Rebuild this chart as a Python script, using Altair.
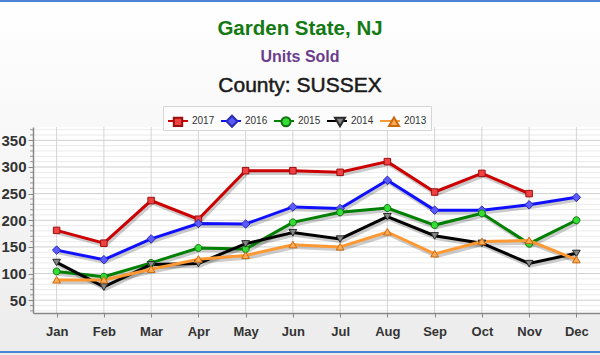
import altair as alt
import pandas as pd

# ---------------- data ----------------
months = ["Jan", "Feb", "Mar", "Apr", "May", "Jun", "Jul", "Aug", "Sep", "Oct", "Nov", "Dec"]
years = ["2017", "2016", "2015", "2014", "2013"]

s2017 = [181, 157, 237, 202, 293, 293, 290, 310, 253, 288, 250, None]
s2016 = [144, 126, 165, 194, 193, 225, 222, 275, 219, 219, 229, 243]
s2015 = [104, 94, 120, 148, 146, 196, 215, 223, 191, 213, 156, 200]
s2014 = [121, 75, 117, 119, 156, 177, 165, 207, 171, 157, 119, 138]
s2013 = [88, 88, 108, 127, 134, 154, 150, 178, 137, 160, 162, 126]

title_main = "Garden State, NJ"
title_sub = "Units Sold"
title_county = "County: SUSSEX"

y_major = [50, 100, 150, 200, 250, 300, 350]
y_minor = [v for v in range(30, 371, 10) if v % 50 != 0]

# ---------------- styles ----------------
line_colors = ["#cc0000", "#1010ff", "#008000", "#000000", "#ff9933"]
fill_colors = ["#f04040", "#5a5aff", "#33dd33", "#858585", "#ffaa55"]
edge_colors = ["#9a1010", "#2a2ab0", "#137013", "#2a2a2a", "#c86a10"]
# marker outlines drawn at half scale; "M-1.1,0M1.1,0" only widens the bounds so the
# marker legend lays out exactly like the line legend beneath it
EXT = "M-1.1,0M1.1,0"
shape_paths = [
    EXT + "M-0.42,-0.42H0.42V0.42H-0.42Z",
    EXT + "M0,-0.55L0.55,0L0,0.55L-0.55,0Z",
    EXT + "M-0.45,0A0.45,0.45,0,1,0,0.45,0A0.45,0.45,0,1,0,-0.45,0Z",
    EXT + "M-0.5,-0.4L0.5,-0.4L0,0.45Z",
    EXT + "M-0.5,0.4L0.5,0.4L0,-0.45Z",
]

W, H = 567, 186
PAD_L, PAD_T, PAD_B = 33, 127, 42
FONT = "Liberation Sans"
LEG_FS = 10
LABEL_W = 4 * 0.556 * LEG_FS  # width of a four-digit year label in this font

rows = []
for yr, vals in zip(years, [s2017, s2016, s2015, s2014, s2013]):
    for m, v in zip(months, vals):
        if v is not None:
            rows.append({"month": m, "year": yr, "value": v})
df = pd.DataFrame(rows)

grid_minor_df = pd.DataFrame({"value": y_minor})
grid_major_df = pd.DataFrame({"value": y_major})
grid_month_df = pd.DataFrame({"month": months})
one = alt.Data(values=[{"k": 1}])

x_scale = alt.Scale(type="point", domain=months, padding=0.5)
y_scale = alt.Scale(domain=[26, 375], nice=False, zero=False)

x_axis = alt.Axis(title=None, labelFont=FONT, labelFontSize=13, labelFontWeight="bold",
                  labelColor="#333333", tickSize=4, tickColor="#888888", domainColor="#888888",
                  domainWidth=1.5, labelPadding=8, grid=False, labelAngle=0, zindex=1)
y_axis = alt.Axis(title=None, values=y_major, labelFont=FONT, labelFontSize=15,
                  labelFontWeight="bold", labelColor="#333333", tickSize=5, tickColor="#888888",
                  domainColor="#888888", domainWidth=1.5, labelPadding=2, grid=False, zindex=1)

x_enc = alt.X("month:O", sort=months, scale=x_scale, axis=x_axis)
y_enc = alt.Y("value:Q", scale=y_scale, axis=y_axis)

# ---------------- decoration ----------------
bg = alt.Chart(one).mark_rect(
    color=alt.LinearGradient(gradient="linear",
                             stops=[alt.GradientStop(color="#ffffff", offset=0),
                                    alt.GradientStop(color="#ececec", offset=1)],
                             x1=0, x2=0, y1=0, y2=1)
).encode(x=alt.value(-PAD_L), x2=alt.value(W), y=alt.value(-PAD_T), y2=alt.value(H + PAD_B))

plot_bg = alt.Chart(one).mark_rect(color="#ffffff").encode(
    x=alt.value(0), x2=alt.value(W), y=alt.value(0), y2=alt.value(H))

frame_top = alt.Chart(one).mark_rule(color="#4a84d6", strokeWidth=2).encode(
    x=alt.value(-PAD_L), x2=alt.value(W), y=alt.value(-PAD_T + 1))
frame_bot = alt.Chart(one).mark_rule(color="#4a84d6", strokeWidth=2).encode(
    x=alt.value(-PAD_L), x2=alt.value(W), y=alt.value(H + PAD_B - 3))

minor_grid = alt.Chart(grid_minor_df).mark_rule(color="#ebebeb", strokeWidth=1).encode(
    y=y_enc, x=alt.value(0), x2=alt.value(W))
major_grid = alt.Chart(grid_major_df).mark_rule(color="#cfcfcf", strokeWidth=1).encode(
    y=y_enc, x=alt.value(0), x2=alt.value(W))
month_grid = alt.Chart(grid_month_df).mark_rule(color="#d4d4d4", strokeWidth=1).encode(
    x=x_enc, y=alt.value(0), y2=alt.value(H))
minor_ticks = alt.Chart(grid_minor_df).mark_rule(color="#999999", strokeWidth=1).encode(
    y=y_enc, x=alt.value(-3), x2=alt.value(0))

t1 = alt.Chart(one).mark_text(text=title_main, font=FONT, fontSize=20.5, fontWeight="bold",
                              color="#137a13", align="center", baseline="alphabetic").encode(
    x=alt.value(300 - PAD_L), y=alt.value(35 - PAD_T))
t2 = alt.Chart(one).mark_text(text=title_sub, font=FONT, fontSize=16, fontWeight="bold",
                              color="#6b3c8c", align="center", baseline="alphabetic").encode(
    x=alt.value(300 - PAD_L), y=alt.value(61.5 - PAD_T))
t3 = alt.Chart(one).mark_text(text=title_county, font=FONT, fontSize=21, fontWeight="normal",
                              color="#1a1a1a", stroke="#1a1a1a", strokeWidth=0.5,
                              align="center", baseline="alphabetic").encode(
    x=alt.value(300 - PAD_L), y=alt.value(91.5 - PAD_T))

# ---------------- series ----------------
base = alt.Chart(df)

shadow = base.mark_line(strokeWidth=3.5, color="#000000", opacity=0.2, xOffset=1.5, yOffset=2.5).encode(
    x=x_enc, y=y_enc, detail="year:N")

leg_common = dict(orient="none", legendX=130, legendY=-21, direction="horizontal", columns=5,
                  symbolSize=400, symbolStrokeWidth=2, labelFont=FONT, labelFontSize=LEG_FS,
                  labelColor="#333333", columnPadding=2, padding=4)

legA = alt.Legend(symbolType="stroke", strokeColor="#d6d6d6", fillColor="#fcfcfc",
                  labelOffset=3, **leg_common)
# marker legend overlaid on the line legend: no label text, same entry widths
legB = alt.Legend(labelExpr="''", labelOffset=3 + LABEL_W, symbolStrokeColor="transparent",
                  **leg_common)

lines = base.mark_line(strokeWidth=3).encode(
    x=x_enc, y=y_enc,
    color=alt.Color("year:N", title=None, scale=alt.Scale(domain=years, range=line_colors), legend=legA),
)

points = base.mark_point(filled=True, size=240, strokeWidth=1, opacity=1).encode(
    x=x_enc, y=y_enc,
    fill=alt.Fill("year:N", title=None, scale=alt.Scale(domain=years, range=fill_colors), legend=legB),
    stroke=alt.Stroke("year:N", title=None, scale=alt.Scale(domain=years, range=edge_colors), legend=None),
    shape=alt.Shape("year:N", title=None, scale=alt.Scale(domain=years, range=shape_paths), legend=legB),
)

chart = alt.layer(
    bg, plot_bg, minor_grid, major_grid, month_grid, minor_ticks, frame_top, frame_bot,
    t1, t2, t3, shadow, lines, points
).resolve_legend(
    color="independent", fill="independent", stroke="independent", shape="independent"
).properties(
    width=W, height=H,
    autosize=alt.AutoSizeParams(type="none"),
    padding={"left": PAD_L, "top": PAD_T, "right": 0, "bottom": PAD_B},
).configure_view(stroke="transparent")

chart.save("out.html", embed_options={"renderer": "svg", "actions": False})
